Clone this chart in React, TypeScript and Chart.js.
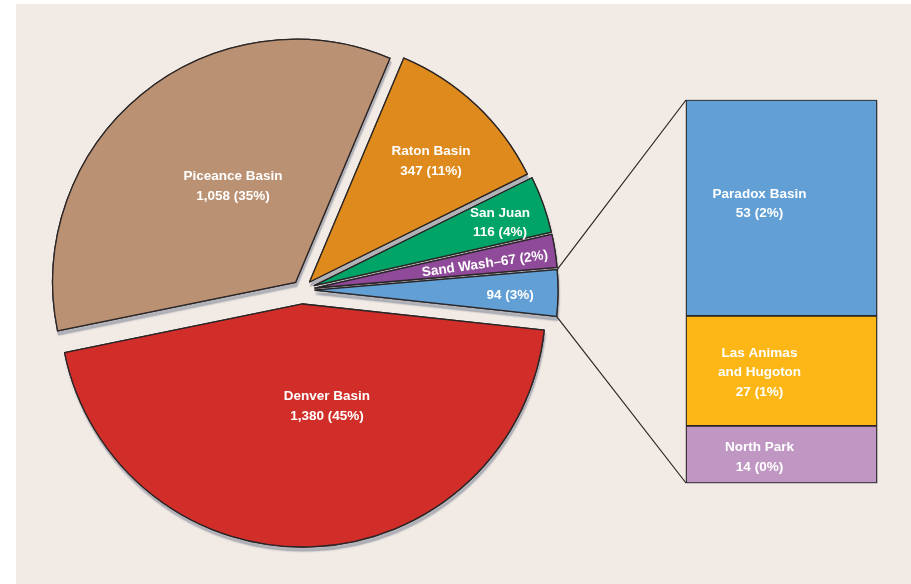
import React, { useEffect, useRef } from 'react';
import { Chart, registerables } from 'chart.js';

Chart.register(...registerables);

// ---- data ----
const pieCategories = ['Denver Basin', 'Piceance Basin', 'Raton Basin', 'San Juan', 'Sand Wash', 'Other'];
const pieValues = [1380, 1058, 347, 116, 67, 94];
const barCategories = ['North Park', 'Las Animas\nand Hugoton', 'Paradox Basin'];
const barValues = [14, 27, 53];

// ---- styles ----
const BG = '#f2eae4';
const EDGE = '#2a2526';
const SHADOW = 'rgba(105,115,135,0.45)';
const PIE_COLORS = ['#d22e29', '#ba9173', '#df8a1c', '#00a466', '#8f4a99', '#619fd4'];
const BAR_COLORS = ['#bf97c2', '#fcb717', '#619fd4'];
const EXPLODE = [14, 10, 11, 13, 13, 13];
const PIE_LABEL = [
  { f: 0.432, da: -10.7, rot: 0, mode: 'both' },
  { f: 0.471, da: 6.2, rot: 0, mode: 'both' },
  { f: 0.704, da: 2.0, rot: 0, mode: 'both' },
  { f: 0.807, da: 0.9, rot: 0, mode: 'both' },
  { f: 0.707, da: 0.75, rot: -8, mode: 'inline' },
  { f: 0.803, da: 0.74, rot: 0, mode: 'value' },
];
const BAR_LABEL_DX = -22;
const BAR_LABEL_DY = [3, 1.5, -4];
const FONT = 'bold 13.5px "Liberation Sans", Arial, Helvetica, sans-serif';
const LINE_H = 19.5;
const BAR_CANVAS = { left: 676, top: 90, width: 212, height: 404 };

const pieTotal = pieValues.reduce((a, b) => a + b, 0);
const barTotal = barValues.reduce((a, b) => a + b, 0);
const fmt = (v: number) => v.toLocaleString('en-US');
const pct = (v: number) => Math.round((v / pieTotal) * 100);

function drawLines(ctx: CanvasRenderingContext2D, lines: string[], x: number, y: number, rot = 0) {
  ctx.save();
  ctx.translate(x, y);
  if (rot) ctx.rotate((rot * Math.PI) / 180);
  ctx.font = FONT;
  ctx.fillStyle = '#ffffff';
  ctx.textAlign = 'center';
  ctx.textBaseline = 'middle';
  const n = lines.length;
  lines.forEach((t, k) => {
    ctx.fillText(t, 0, (k - (n - 1) / 2) * LINE_H);
  });
  ctx.restore();
}

function makePiePlugin(getBar: () => any) {
  return {
    id: 'explodedPie',
    beforeDatasetsDraw(chart: any) {
      const ctx = chart.ctx as CanvasRenderingContext2D;
      const meta = chart.getDatasetMeta(0);
      for (let pass = 0; pass < 2; pass++) {
        meta.data.forEach((el: any, i: number) => {
          const mid = (el.startAngle + el.endAngle) / 2;
          ctx.save();
          ctx.translate(Math.cos(mid) * EXPLODE[i], Math.sin(mid) * EXPLODE[i]);
          if (pass === 0) {
            ctx.shadowColor = SHADOW;
            ctx.shadowOffsetX = 1;
            ctx.shadowOffsetY = 4;
            ctx.shadowBlur = 1.5;
          }
          el.draw(ctx);
          ctx.restore();
        });
      }
      return false;
    },
    afterDraw(chart: any) {
      const ctx = chart.ctx as CanvasRenderingContext2D;
      const meta = chart.getDatasetMeta(0);
      meta.data.forEach((el: any, i: number) => {
        const mid = (el.startAngle + el.endAngle) / 2;
        const cx = el.x + Math.cos(mid) * EXPLODE[i];
        const cy = el.y + Math.sin(mid) * EXPLODE[i];
        const L = PIE_LABEL[i];
        const a = mid + (L.da * Math.PI) / 180;
        const r = el.outerRadius * L.f;
        const v = pieValues[i];
        const vt = `${fmt(v)} (${pct(v)}%)`;
        let lines: string[];
        if (L.mode === 'inline') lines = [`${pieCategories[i]}\u2013${vt}`];
        else if (L.mode === 'value') lines = [vt];
        else lines = [pieCategories[i], vt];
        drawLines(ctx, lines, cx + Math.cos(a) * r, cy + Math.sin(a) * r, L.rot);
      });

      // connector lines to the bar of the broken-out slice
      const bar = getBar();
      if (!bar) return;
      const last = meta.data.length - 1;
      const el: any = meta.data[last];
      const mid = (el.startAngle + el.endAngle) / 2;
      const ox = el.x + Math.cos(mid) * EXPLODE[last];
      const oy = el.y + Math.sin(mid) * EXPLODE[last];
      const p1 = { x: ox + Math.cos(el.startAngle) * el.outerRadius, y: oy + Math.sin(el.startAngle) * el.outerRadius };
      const p2 = { x: ox + Math.cos(el.endAngle) * el.outerRadius, y: oy + Math.sin(el.endAngle) * el.outerRadius };
      const topEl: any = bar.getDatasetMeta(barValues.length - 1).data[0];
      const botEl: any = bar.getDatasetMeta(0).data[0];
      const q1 = { x: BAR_CANVAS.left + topEl.x - topEl.width / 2, y: BAR_CANVAS.top + topEl.y };
      const q2 = { x: BAR_CANVAS.left + botEl.x - botEl.width / 2, y: BAR_CANVAS.top + botEl.base };
      ctx.save();
      ctx.strokeStyle = EDGE;
      ctx.lineWidth = 1.2;
      ctx.beginPath();
      ctx.moveTo(p1.x, p1.y);
      ctx.lineTo(q1.x, q1.y);
      ctx.moveTo(p2.x, p2.y);
      ctx.lineTo(q2.x, q2.y);
      ctx.stroke();
      ctx.restore();
    },
  };
}

const barPlugin = {
  id: 'barShadowLabels',
  beforeDatasetsDraw(chart: any) {
    const ctx = chart.ctx as CanvasRenderingContext2D;
    for (let pass = 0; pass < 2; pass++) {
      chart.data.datasets.forEach((_: any, di: number) => {
        const meta = chart.getDatasetMeta(di);
        meta.data.forEach((el: any) => {
          ctx.save();
          if (pass === 0) {
            ctx.shadowColor = SHADOW;
            ctx.shadowOffsetX = 1;
            ctx.shadowOffsetY = 2;
            ctx.shadowBlur = 1;
          }
          el.draw(ctx);
          ctx.restore();
        });
      });
    }
    return false;
  },
  afterDraw(chart: any) {
    const ctx = chart.ctx as CanvasRenderingContext2D;
    chart.data.datasets.forEach((_: any, di: number) => {
      const el: any = chart.getDatasetMeta(di).data[0];
      const v = barValues[di];
      const lines = [...barCategories[di].split('\n'), `${fmt(v)} (${pct(v)}%)`];
      drawLines(ctx, lines, el.x + BAR_LABEL_DX, (el.y + el.base) / 2 + BAR_LABEL_DY[di]);
    });
  },
};

export default function App() {
  const pieRef = useRef<HTMLCanvasElement>(null);
  const barRef = useRef<HTMLCanvasElement>(null);

  useEffect(() => {
    if (!pieRef.current || !barRef.current) return;
    const barChart = new Chart(barRef.current, {
      type: 'bar',
      data: {
        labels: ['Other'],
        datasets: barCategories.map((c, i) => ({
          label: c,
          data: [barValues[i]],
          backgroundColor: BAR_COLORS[i],
          borderColor: EDGE,
          borderWidth: 1.2,
          borderSkipped: false,
          categoryPercentage: 1,
          barPercentage: 1,
        })),
      },
      options: {
        responsive: false,
        animation: false,
        devicePixelRatio: 1,
        layout: { padding: { left: 10, right: 11, top: 10, bottom: 11 } },
        scales: {
          x: { stacked: true, display: false },
          y: { stacked: true, display: false, min: 0, max: barTotal },
        },
        plugins: { legend: { display: false }, tooltip: { enabled: false } },
        events: [],
      },
      plugins: [barPlugin],
    } as any);

    const pieChart = new Chart(pieRef.current, {
      type: 'pie',
      data: {
        labels: pieCategories,
        datasets: [
          {
            data: pieValues,
            backgroundColor: PIE_COLORS,
            borderColor: EDGE,
            borderWidth: 1.3,
            borderJoinStyle: 'round',
          },
        ],
      },
      options: {
        responsive: false,
        animation: false,
        devicePixelRatio: 1,
        radius: 243,
        rotation: 96.2,
        layout: { padding: { left: 0, right: 307, top: 0, bottom: 4 } },
        plugins: { legend: { display: false }, tooltip: { enabled: false } },
        events: [],
      },
      plugins: [makePiePlugin(() => barChart)],
    } as any);

    return () => {
      pieChart.destroy();
      barChart.destroy();
    };
  }, []);

  return (
    <div style={{ position: 'absolute', left: 0, top: 0, width: 911, height: 584, background: '#ffffff', overflow: 'hidden' }}>
      <div style={{ position: 'absolute', left: 16, top: 4, width: 895, height: 580, background: BG }} />
      <canvas
        ref={pieRef}
        width={911}
        height={584}
        style={{ position: 'absolute', left: 0, top: 0, width: 911, height: 584 }}
      />
      <canvas
        ref={barRef}
        width={BAR_CANVAS.width}
        height={BAR_CANVAS.height}
        style={{
          position: 'absolute',
          left: BAR_CANVAS.left,
          top: BAR_CANVAS.top,
          width: BAR_CANVAS.width,
          height: BAR_CANVAS.height,
        }}
      />
    </div>
  );
}
